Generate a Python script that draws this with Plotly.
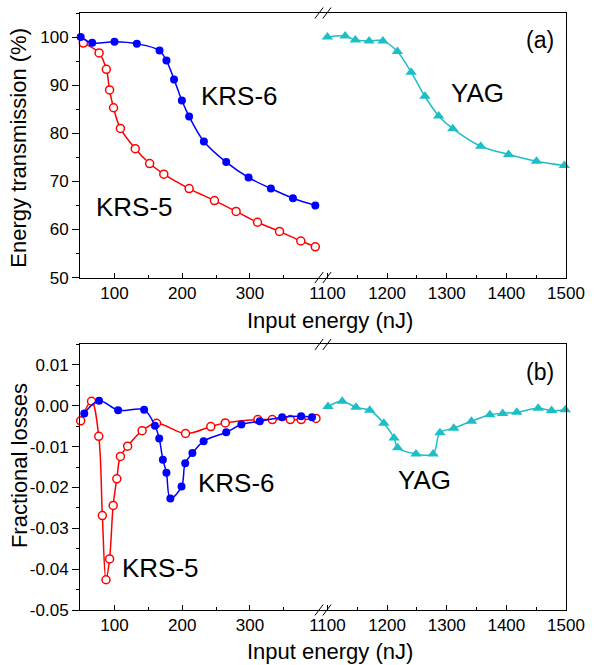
import plotly.graph_objects as go

# ---- data: panel (a) energy transmission (%) ----
krs6_e = [50, 67, 100, 133, 166.5, 176.7, 187.9, 199.5, 210.2, 232, 265, 298, 331, 363.6, 396.6]
krs6_t = [100, 98.8, 99.0, 98.6, 97.2, 95.1, 91.2, 86.8, 83.5, 78.3, 74.0, 70.8, 68.5, 66.5, 65.0]

krs5_e = [53.9, 77.2, 87.9, 92.7, 98.5, 108.7, 130.6, 151.9, 172.8, 210.2, 247.6, 279.6, 311.2, 343.7, 375.2, 396.6]
krs5_t = [98.75, 96.7, 93.3, 89.0, 85.3, 81.0, 76.8, 73.7, 71.5, 68.5, 66.0, 63.75, 61.5, 59.6, 57.6, 56.4]

yag_e = [1100, 1129.7, 1146.8, 1169.9, 1193, 1217.2, 1240.3, 1263.4, 1286.5, 1310.2, 1357, 1403.7, 1450.5, 1497.2]
yag_t = [100, 100.2, 99.4, 99.2, 99.2, 97.0, 92.7, 87.7, 83.6, 80.95, 77.3, 75.6, 74.2, 73.3]

# ---- data: panel (b) fractional losses ----
krs5_le = [50, 66, 76.7, 82, 87.4, 92.7, 98, 103.4, 108.7, 119.4, 140.8, 162.1, 204.9, 242.2, 263.6,
           311.7, 333, 359.7, 375.7, 397.6]
krs5_l = [-0.0037, 0.0011, -0.0075, -0.0269, -0.0426, -0.0375, -0.0244, -0.0179, -0.0124, -0.0099,
          -0.0061, -0.0043, -0.0068, -0.0051, -0.0042, -0.0034, -0.0034, -0.0034, -0.0034, -0.0031]

krs6_le = [55.3, 77.2, 105.3, 143.7, 159.7, 166, 171.4, 176.7, 182.5, 199, 204.4, 215, 231.6, 265,
           287.4, 314.6, 347.6, 375.7, 391.7]
krs6_l = [-0.0019, 0.0012, -0.0011, -0.0010, -0.0049, -0.0080, -0.0132, -0.0164, -0.0227, -0.0198,
          -0.0141, -0.0116, -0.0087, -0.0065, -0.0046, -0.0038, -0.0028, -0.0026, -0.0028]

yag_le = [1101, 1124.8, 1147.9, 1171, 1194.6, 1211.7, 1217.7, 1248.5, 1277.2, 1288.7, 1311.8, 1341.5,
          1372.4, 1393.8, 1417.5, 1453.3, 1475.8, 1498.9]
yag_l = [-0.0002, 0.0011, -0.0004, -0.0011, -0.0043, -0.0079, -0.0103, -0.0118, -0.0118, -0.0066,
         -0.0055, -0.0038, -0.0022, -0.0019, -0.0016, -0.0006, -0.0012, -0.0010]

# ---- tick definitions ----
low_ticks = [100, 200, 300]
low_minor = [150, 250, 350]
high_ticks = [1100, 1200, 1300, 1400, 1500]
high_minor = [1150, 1250, 1350, 1450]
trans_ticks = [50, 60, 70, 80, 90, 100]
trans_minor = [55, 65, 75, 85, 95, 105]
loss_ticks = [-0.05, -0.04, -0.03, -0.02, -0.01, 0.0, 0.01]
loss_labels = ["-0.05", "-0.04", "-0.03", "-0.02", "-0.01", "0.00", "0.01"]
loss_minor = [-0.045, -0.035, -0.025, -0.015, -0.005, 0.005, 0.015]

BLUE = "#0000FF"
RED = "#FF0000"
CYAN = "#1DBFC6"
FONT = "Liberation Sans, Arial, sans-serif"
SMOOTH = 1.0

# plot-area geometry (pixels) used for paper-coordinate placement
W, H = 597, 665
L, R, T, B = 80, 573, 12, 610
BREAK_PX = 327


def px_x(px):
    return (px - L) / (R - L)


def px_y(py):
    return (B - py) / (B - T)


fig = go.Figure()


def blue_trace(x, y, xa, ya):
    return go.Scatter(x=x, y=y, xaxis=xa, yaxis=ya, mode="lines+markers",
                      line=dict(color=BLUE, width=1.5, shape="spline", smoothing=SMOOTH),
                      marker=dict(symbol="circle", size=8, color=BLUE),
                      cliponaxis=False, showlegend=False)


def red_trace(x, y, xa, ya):
    return go.Scatter(x=x, y=y, xaxis=xa, yaxis=ya, mode="lines+markers",
                      line=dict(color=RED, width=1.5, shape="spline", smoothing=SMOOTH),
                      marker=dict(symbol="circle", size=8, color="white",
                                  line=dict(color=RED, width=1.5)),
                      cliponaxis=False, showlegend=False)


def cyan_trace(x, y, xa, ya):
    return go.Scatter(x=x, y=y, xaxis=xa, yaxis=ya, mode="lines+markers",
                      line=dict(color=CYAN, width=1.5, shape="spline", smoothing=SMOOTH),
                      marker=dict(symbol="triangle-up", size=10, color=CYAN),
                      cliponaxis=False, showlegend=False)


# panel (a)
fig.add_trace(red_trace(krs5_e, krs5_t, "x", "y"))
fig.add_trace(blue_trace(krs6_e, krs6_t, "x", "y"))
fig.add_trace(cyan_trace(yag_e, yag_t, "x2", "y2"))
# panel (b)
fig.add_trace(red_trace(krs5_le, krs5_l, "x3", "y3"))
fig.add_trace(blue_trace(krs6_le, krs6_l, "x3", "y3"))
fig.add_trace(cyan_trace(yag_le, yag_l, "x4", "y4"))

split = px_x(BREAK_PX)
top_dom = [px_y(277), 1.0]
bot_dom = [0.0, px_y(344)]

tickfont = dict(family=FONT, size=17, color="black")

xcommon = dict(showline=True, linecolor="black", linewidth=1, mirror=True,
               ticks="inside", ticklen=5, tickwidth=1, tickcolor="black",
               tickfont=tickfont, showgrid=False, zeroline=False, tickmode="array")
ycommon = dict(showline=True, linecolor="black", linewidth=1,
               ticks="outside", ticklen=7, tickwidth=1, tickcolor="black",
               tickfont=tickfont, showgrid=False, zeroline=False, tickmode="array")
yright = dict(showline=True, linecolor="black", linewidth=1, side="right",
              showticklabels=False, ticks="", showgrid=False, zeroline=False)

xlow_range = [49.0, 408.7]
xhigh_range = [1093.4, 1500]

fig.update_layout(
    width=W, height=H,
    margin=dict(l=L, r=W - R, t=T, b=H - B),
    paper_bgcolor="white", plot_bgcolor="white",
    font=dict(family=FONT, color="black"),
    xaxis=dict(domain=[0, split], anchor="y", range=xlow_range, tickvals=low_ticks,
               minor=dict(tickvals=low_minor, ticks="inside", ticklen=3, tickcolor="black"),
               **xcommon),
    xaxis2=dict(domain=[split, 1], anchor="y2", range=xhigh_range, tickvals=high_ticks,
                minor=dict(tickvals=high_minor, ticks="inside", ticklen=3, tickcolor="black"),
                **xcommon),
    yaxis=dict(domain=top_dom, anchor="x", range=[50, 105], tickvals=trans_ticks,
               minor=dict(tickvals=trans_minor, ticks="outside", ticklen=3, tickcolor="black"),
               **ycommon),
    yaxis2=dict(domain=top_dom, anchor="x2", range=[50, 105], **yright),
    xaxis3=dict(domain=[0, split], anchor="y3", range=xlow_range, tickvals=low_ticks,
                minor=dict(tickvals=low_minor, ticks="inside", ticklen=3, tickcolor="black"),
                **xcommon),
    xaxis4=dict(domain=[split, 1], anchor="y4", range=xhigh_range, tickvals=high_ticks,
                minor=dict(tickvals=high_minor, ticks="inside", ticklen=3, tickcolor="black"),
                **xcommon),
    yaxis3=dict(domain=bot_dom, anchor="x3", range=[-0.05, 0.015], tickvals=loss_ticks,
                ticktext=loss_labels,
                minor=dict(tickvals=loss_minor, ticks="outside", ticklen=3, tickcolor="black"),
                **ycommon),
    yaxis4=dict(domain=bot_dom, anchor="x4", range=[-0.05, 0.015], **yright),
)

# axis-break marks "//" on every horizontal axis line at the split
shapes = []
for py in (12, 277, 344, 610):
    for cx in (322.5, 330.5):
        shapes.append(dict(type="line", xref="paper", yref="paper", layer="above",
                           x0=px_x(cx - 4.2), y0=px_y(py + 5.5),
                           x1=px_x(cx + 4.2), y1=px_y(py - 5.5),
                           line=dict(color="black", width=1)))
fig.update_layout(shapes=shapes)


def label(text, px, py, size=26, angle=0):
    fig.add_annotation(text=text, x=px_x(px), y=px_y(py), xref="paper", yref="paper",
                       xanchor="center", yanchor="middle", showarrow=False, textangle=angle,
                       font=dict(family=FONT, size=size, color="black"))


# curve labels
label("KRS-6", 242, 95)
label("KRS-5", 135, 206)
label("YAG", 483, 92)
label("KRS-6", 239, 483)
label("KRS-5", 162, 568)
label("YAG", 429, 480)
# panel tags
label("(a)", 547, 39, size=23)
label("(b)", 547, 372, size=23)
# axis titles
label("Input energy (nJ)", 334, 320, size=22)
label("Input energy (nJ)", 334, 652, size=22)
label("Energy transmission (%)", 18, 147, size=22, angle=-90)
label("Fractional losses", 18, 465, size=22, angle=-90)

fig.write_html("out.html")
